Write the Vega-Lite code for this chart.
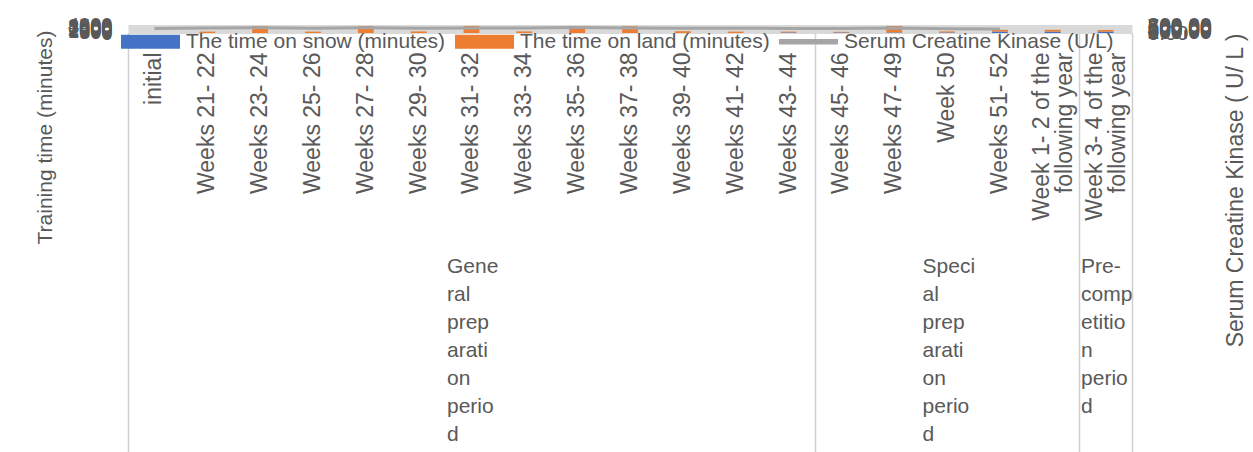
{
  "$schema": "https://vega.github.io/schema/vega-lite/v6.json",
  "width": 1004,
  "height": 8,
  "autosize": {"type": "none"},
  "padding": {"left": 128, "top": 25, "right": 121, "bottom": 419},
  "background": "white",
  "config": {
    "view": {"stroke": null},
    "font": "Liberation Sans",
    "axis": {"labelColor": "#595959", "titleColor": "#595959", "titleFontWeight": "normal", "labelFont": "Liberation Sans", "titleFont": "Liberation Sans"}
  },
  "datasets": {
    "bars": [
      {"week": "Weeks 21- 22", "series": "The time on snow (minutes)", "minutes": 0},
      {"week": "Weeks 21- 22", "series": "The time on land (minutes)", "minutes": 700},
      {"week": "Weeks 23- 24", "series": "The time on snow (minutes)", "minutes": 0},
      {"week": "Weeks 23- 24", "series": "The time on land (minutes)", "minutes": 3500},
      {"week": "Weeks 25- 26", "series": "The time on snow (minutes)", "minutes": 0},
      {"week": "Weeks 25- 26", "series": "The time on land (minutes)", "minutes": 700},
      {"week": "Weeks 27- 28", "series": "The time on snow (minutes)", "minutes": 0},
      {"week": "Weeks 27- 28", "series": "The time on land (minutes)", "minutes": 3500},
      {"week": "Weeks 29- 30", "series": "The time on snow (minutes)", "minutes": 0},
      {"week": "Weeks 29- 30", "series": "The time on land (minutes)", "minutes": 800},
      {"week": "Weeks 31- 32", "series": "The time on snow (minutes)", "minutes": 0},
      {"week": "Weeks 31- 32", "series": "The time on land (minutes)", "minutes": 3500},
      {"week": "Weeks 33- 34", "series": "The time on snow (minutes)", "minutes": 0},
      {"week": "Weeks 33- 34", "series": "The time on land (minutes)", "minutes": 800},
      {"week": "Weeks 35- 36", "series": "The time on snow (minutes)", "minutes": 0},
      {"week": "Weeks 35- 36", "series": "The time on land (minutes)", "minutes": 3400},
      {"week": "Weeks 37- 38", "series": "The time on snow (minutes)", "minutes": 0},
      {"week": "Weeks 37- 38", "series": "The time on land (minutes)", "minutes": 3400},
      {"week": "Weeks 39- 40", "series": "The time on snow (minutes)", "minutes": 0},
      {"week": "Weeks 39- 40", "series": "The time on land (minutes)", "minutes": 900},
      {"week": "Weeks 41- 42", "series": "The time on snow (minutes)", "minutes": 0},
      {"week": "Weeks 41- 42", "series": "The time on land (minutes)", "minutes": 700},
      {"week": "Weeks 43- 44", "series": "The time on snow (minutes)", "minutes": 300},
      {"week": "Weeks 43- 44", "series": "The time on land (minutes)", "minutes": 400},
      {"week": "Weeks 45- 46", "series": "The time on snow (minutes)", "minutes": 300},
      {"week": "Weeks 45- 46", "series": "The time on land (minutes)", "minutes": 300},
      {"week": "Weeks 47- 49", "series": "The time on snow (minutes)", "minutes": 300},
      {"week": "Weeks 47- 49", "series": "The time on land (minutes)", "minutes": 3200},
      {"week": "Week 50", "series": "The time on snow (minutes)", "minutes": 300},
      {"week": "Week 50", "series": "The time on land (minutes)", "minutes": 500},
      {"week": "Weeks 51- 52", "series": "The time on snow (minutes)", "minutes": 700},
      {"week": "Weeks 51- 52", "series": "The time on land (minutes)", "minutes": 900},
      {"week": "Week 1- 2 of the|following year", "series": "The time on snow (minutes)", "minutes": 700},
      {"week": "Week 1- 2 of the|following year", "series": "The time on land (minutes)", "minutes": 900},
      {"week": "Week 3- 4 of the|following year", "series": "The time on snow (minutes)", "minutes": 700},
      {"week": "Week 3- 4 of the|following year", "series": "The time on land (minutes)", "minutes": 800}
    ],
    "ck": [
      {"week": "initial", "ck": 450},
      {"week": "Weeks 21- 22", "ck": 500},
      {"week": "Weeks 23- 24", "ck": 520},
      {"week": "Weeks 25- 26", "ck": 480},
      {"week": "Weeks 27- 28", "ck": 530},
      {"week": "Weeks 29- 30", "ck": 470},
      {"week": "Weeks 31- 32", "ck": 510},
      {"week": "Weeks 33- 34", "ck": 490},
      {"week": "Weeks 35- 36", "ck": 540},
      {"week": "Weeks 37- 38", "ck": 500},
      {"week": "Weeks 39- 40", "ck": 470},
      {"week": "Weeks 41- 42", "ck": 480},
      {"week": "Weeks 43- 44", "ck": 460},
      {"week": "Weeks 45- 46", "ck": 450},
      {"week": "Weeks 47- 49", "ck": 500},
      {"week": "Week 50", "ck": 430},
      {"week": "Weeks 51- 52", "ck": 400}
    ]
  },
  "layer": [
    {
      "data": {"name": "bars"},
      "mark": {"type": "bar", "width": {"band": 0.3}},
      "encoding": {
        "x": {
          "field": "week", "type": "nominal",
          "scale": {"domain": ["initial","Weeks 21- 22","Weeks 23- 24","Weeks 25- 26","Weeks 27- 28","Weeks 29- 30","Weeks 31- 32","Weeks 33- 34","Weeks 35- 36","Weeks 37- 38","Weeks 39- 40","Weeks 41- 42","Weeks 43- 44","Weeks 45- 46","Weeks 47- 49","Week 50","Weeks 51- 52","Week 1- 2 of the|following year","Week 3- 4 of the|following year"], "paddingInner": 0, "paddingOuter": 0},
          "axis": {
            "orient": "bottom", "title": null, "labelAngle": -90, "labelAlign": "right", "labelBaseline": "middle",
            "labelExpr": "split(datum.label, '|')", "labelFontSize": 23, "labelLineHeight": 23,
            "labelOffset": {"condition": {"test": "indexof(datum.value, '|') >= 0", "value": -11}, "value": 0},
            "labelPadding": 19, "ticks": false, "domain": true, "domainColor": "#d9d9d9",
            "labelOverlap": false, "labelBound": false, "labelFlush": false, "labelLimit": 400, "grid": false
          }
        },
        "y": {
          "field": "minutes", "type": "quantitative", "stack": "zero",
          "scale": {"domain": [0, 4000], "nice": false},
          "axis": {
            "orient": "left", "values": [0,500,1000,1500,2000,2500,3000,3500,4000], "format": "d",
            "labelFontSize": 20, "labelPadding": 16, "ticks": false, "domain": false,
            "grid": true, "gridColor": "#d9d9d9", "labelOverlap": false, "labelBound": false, "labelFlush": false,
            "title": "Training time (minutes)", "titleFontSize": 21, "titleAngle": 270,
            "titleX": -83, "titleY": 112, "titleAlign": "center", "titleBaseline": "middle"
          }
        },
        "color": {
          "field": "series", "type": "nominal",
          "scale": {"domain": ["The time on snow (minutes)", "The time on land (minutes)", "Serum Creatine Kinase (U/L)"], "range": ["#4472c4", "#ed7d31", "#a5a5a5"]},
          "legend": {
            "title": null, "orient": "none", "legendX": -7, "legendY": -13, "direction": "horizontal",
            "labelFont": "Liberation Sans", "labelFontSize": 21, "labelColor": "#595959", "labelLimit": 400,
            "symbolSize": 3481, "labelOffset": 6, "columnPadding": 9, "padding": 0,
            "encode": {
              "symbols": {
                "update": {
                  "shape": {"signal": "datum.value === 'Serum Creatine Kinase (U/L)' ? 'M-1,-0.09H1V0.09H-1Z' : 'M-1,-0.24H1V0.24H-1Z'"},
                  "fill": {"scale": "color", "field": "value"},
                  "fillOpacity": {"value": 1},
                  "opacity": {"value": 1},
                  "strokeWidth": {"value": 0}
                }
              }
            }
          }
        },
        "order": {"field": "series", "sort": "descending"}
      }
    },
    {
      "data": {"name": "ck"},
      "mark": {"type": "line", "strokeWidth": 3},
      "encoding": {
        "x": {
          "field": "week", "type": "nominal",
          "axis": {
            "orient": "bottom", "title": null, "labelAngle": 0, "labelAlign": "left", "labelBaseline": "top",
            "labelOffset": -25, "labelFontSize": 21, "labelLineHeight": 28,
            "labelExpr": "datum.value === 'Weeks 31- 32' ? ['Gene','ral','prep','arati','on','perio','d'] : datum.value === 'Week 50' ? ['Speci','al','prep','arati','on','perio','d'] : datum.value === 'Week 3- 4 of the|following year' ? ['Pre-','comp','etitio','n','perio','d'] : ''",
            "ticks": true, "tickBand": "extent", "tickSize": 419, "tickColor": "#d0d0d0", "tickWidth": 1.5,
            "tickOpacity": {"condition": {"test": "datum.extra || datum.value === 'Weeks 43- 44' || datum.value === 'Week 1- 2 of the|following year' || datum.value === 'Week 3- 4 of the|following year'", "value": 1}, "value": 0},
            "labelPadding": -197, "domain": false, "grid": false,
            "labelOverlap": false, "labelBound": false, "labelFlush": false, "labelLimit": 400
          }
        },
        "y": {
          "field": "ck", "type": "quantitative",
          "scale": {"domain": [0, 800], "nice": false},
          "axis": {
            "orient": "right", "values": [0,100,200,300,400,500,600,700,800], "format": ".2f",
            "labelFontSize": 21, "labelPadding": 15, "ticks": false, "domain": false, "grid": false,
            "labelOverlap": false, "labelBound": false, "labelFlush": false,
            "title": "Serum Creatine Kinase ( U/ L )", "titleFontSize": 23, "titleAngle": 270,
            "titleX": 103, "titleY": 165, "titleAlign": "center", "titleBaseline": "middle"
          }
        },
        "color": {"datum": "Serum Creatine Kinase (U/L)", "type": "nominal"}
      }
    }
  ],
  "resolve": {"scale": {"y": "independent"}, "axis": {"x": "independent", "y": "independent"}}
}
